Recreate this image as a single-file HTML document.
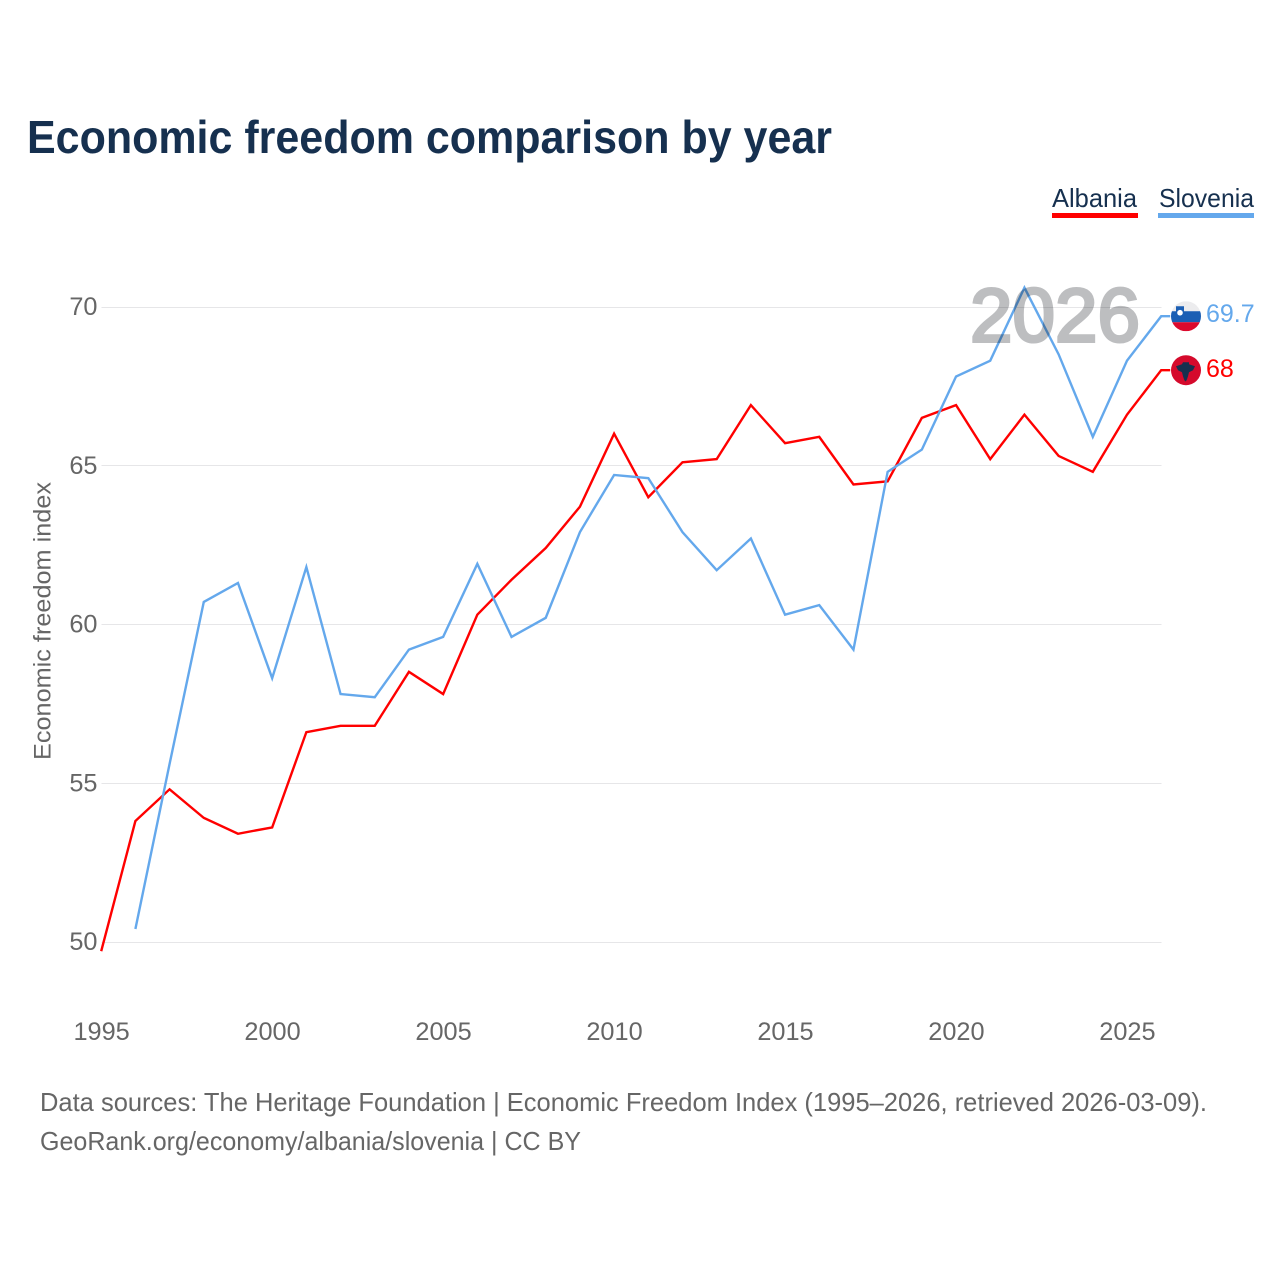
<!DOCTYPE html>
<html lang="en">
<head>
<meta charset="utf-8">
<title>Economic freedom comparison by year</title>
<style>
html,body{margin:0;padding:0;background:#fff;width:1280px;height:1280px;overflow:hidden}
svg{display:block;font-family:"Liberation Sans",sans-serif}
</style>
</head>
<body>
<svg id="chart" width="1280" height="1280" viewBox="0 0 1280 1280" xmlns="http://www.w3.org/2000/svg">
  <rect width="1280" height="1280" fill="#fff"/>
  <text x="27" y="153" font-size="46" font-weight="700" fill="#16304f" textLength="805" lengthAdjust="spacingAndGlyphs">Economic freedom comparison by year</text>

  <g>
    <text x="1052" y="207" font-size="26" fill="#16304f" textLength="85" lengthAdjust="spacingAndGlyphs">Albania</text>
    <rect x="1052" y="213" width="86" height="5" fill="#ff0000"/>
  </g>
  <g>
    <text x="1159" y="207" font-size="26" fill="#16304f" textLength="95" lengthAdjust="spacingAndGlyphs">Slovenia</text>
    <rect x="1158" y="213" width="96" height="5" fill="#64a8ec"/>
  </g>

  <g id="grid"></g>
  <g id="yticks"></g>
  <g id="xticks"></g>
  <text transform="translate(50.5 621) rotate(-90)" text-anchor="middle" font-size="24.5" fill="#666" textLength="278" lengthAdjust="spacingAndGlyphs">Economic freedom index</text>

  <g id="series"></g>
  <text x="970" y="341.5" font-size="76" font-weight="400" fill="#bdbec0" stroke="#bdbec0" stroke-width="3" style="mix-blend-mode:multiply;paint-order:stroke" textLength="170" lengthAdjust="spacingAndGlyphs">2026</text>
  <g id="ends"></g>

  <text x="40" y="1111" font-size="26" fill="#666" textLength="1167" lengthAdjust="spacingAndGlyphs">Data sources: The Heritage Foundation | Economic Freedom Index (1995–2026, retrieved 2026-03-09).</text>
  <text x="40" y="1150" font-size="26" fill="#666" textLength="541" lengthAdjust="spacingAndGlyphs">GeoRank.org/economy/albania/slovenia | CC BY</text>
</svg>
<script>
const years = [1995,1996,1997,1998,1999,2000,2001,2002,2003,2004,2005,2006,2007,2008,2009,2010,2011,2012,2013,2014,2015,2016,2017,2018,2019,2020,2021,2022,2023,2024,2025,2026];
const albania = [49.7,53.8,54.8,53.9,53.4,53.6,56.6,56.8,56.8,58.5,57.8,60.3,61.4,62.4,63.7,66.0,64.0,65.1,65.2,66.9,65.7,65.9,64.4,64.5,66.5,66.9,65.2,66.6,65.3,64.8,66.6,68.0];
const slovenia = [null,50.4,55.6,60.7,61.3,58.3,61.8,57.8,57.7,59.2,59.6,61.9,59.6,60.2,62.9,64.7,64.6,62.9,61.7,62.7,60.3,60.6,59.2,64.8,65.5,67.8,68.3,70.6,68.5,65.9,68.3,69.7];
const yTickValues = [50,55,60,65,70];
const xTickValues = [1995,2000,2005,2010,2015,2020,2025];

const NS = 'http://www.w3.org/2000/svg';
function xScale(year){ return 101.2 + (year - 1995) * (1161.2 - 101.2) / 31; }
function yScale(v){ return 941.7 - (v - 50) * (941.7 - 306.7) / 20; }
function make(tag, attrs, parent, text){
  const el = document.createElementNS(NS, tag);
  for (const k in attrs) el.setAttribute(k, attrs[k]);
  if (text !== undefined) el.textContent = text;
  parent.appendChild(el);
  return el;
}
const grid = document.getElementById('grid');
const yticks = document.getElementById('yticks');
const xticks = document.getElementById('xticks');
const series = document.getElementById('series');
const ends = document.getElementById('ends');

yTickValues.forEach(function(v){
  const gy = Math.round(yScale(v)) + 0.5;
  const line = make('line', {x1:101.5, x2:1161.5, y1:gy, y2:gy, stroke:'#e6e6e8', 'stroke-width':1}, grid);
  
  
  const t = make('text', {x:97.5, y:yScale(v) + 8.5, 'text-anchor':'end', 'font-size':25.3, fill:'#666'}, yticks, String(v));
  
  
});
xTickValues.forEach(function(y){
  const t = make('text', {x:xScale(y) + 0.4, y:1040, 'text-anchor':'middle', 'font-size':25.3, fill:'#666'}, xticks, String(y));
  
  
});

function drawLine(values, color, name){
  let d = '';
  values.forEach(function(v, i){
    if (v === null) return;
    d += (d ? 'L' : 'M') + xScale(years[i]).toFixed(2) + ' ' + yScale(v).toFixed(2);
  });
  const last = values[values.length - 1];
  d += 'L' + (xScale(years[years.length - 1]) + 9).toFixed(2) + ' ' + yScale(last).toFixed(2);
  const p = make('path', {d:d, fill:'none', stroke:color, 'stroke-width':2.4, 'stroke-linejoin':'miter'}, series);
  
  
}
drawLine(albania, '#ff0000', 'line-albania');
drawLine(slovenia, '#64a8ec', 'line-slovenia');

const cx = xScale(2026) + 24.8;
const defs = make('defs', {}, ends);
const clipS = make('clipPath', {id:'clip-si'}, defs);
const sy = yScale(slovenia[31]);
make('circle', {cx:cx, cy:sy, r:15}, clipS);

const si = make('g', {'clip-path':'url(#clip-si)'}, ends);


make('rect', {x:cx - 15, y:sy - 15, width:30, height:10, fill:'#ececee'}, si);
make('rect', {x:cx - 15, y:sy - 5, width:30, height:11, fill:'#1b5fb4'}, si);
make('rect', {x:cx - 15, y:sy + 6, width:30, height:9, fill:'#dc0a2d'}, si);
make('path', {d:'M' + (cx - 10) + ' ' + (sy - 10) + 'h8v7a4 4 0 0 1-8 0z', fill:'#1b5fb4'}, si);
make('circle', {cx:cx - 6, cy:sy - 3.5, r:2.8, fill:'#fff'}, si);

const ay = yScale(albania[31]);
const al = make('g', {}, ends);


make('circle', {cx:cx, cy:ay, r:15, fill:'#d50a2c'}, al);
make('path', {d:'M' + (cx - 3) + ' ' + (ay - 8) + 'h6v2l6 2l-2 4l-4 2l-1 4l-1 3l-1 2h-1l-1 -2l-1 -3l-1 -4l-4 -2l-2 -4l6 -2z', fill:'#16304f'}, al);

const vs = make('text', {x:1206, y:sy + 6, 'font-size':25, fill:'#64a8ec'}, ends, String(slovenia[31]));


const va = make('text', {x:1206, y:ay + 7, 'font-size':25, fill:'#ff0000'}, ends, String(albania[31]));


</script>
</body>
</html>
